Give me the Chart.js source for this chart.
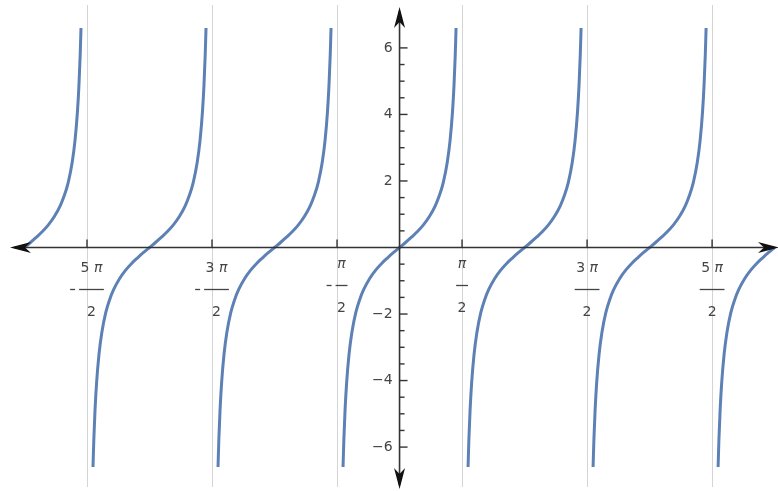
<!DOCTYPE html>
<html>
<head>
<meta charset="utf-8">
<script src="https://cdn.jsdelivr.net/npm/chart.js@4"></script>
<style>
  html, body { margin: 0; padding: 0; background: #fff; }
  #wrap { width: 778px; height: 491px; position: relative; }
</style>
</head>
<body>
<div id="wrap"><canvas id="tanChart"></canvas></div>
<script>
  const PI = Math.PI;

  // one period of the curve: offsets from the branch centre and the values
  const branchOffsets = [-1.42, -1.40, -1.37, -1.33, -1.27, -1.20, -1.10, -1.00, -0.90, -0.75, -0.60, -0.45, -0.30, -0.15,
                         0, 0.15, 0.30, 0.45, 0.60, 0.75, 0.90, 1.00, 1.10, 1.20, 1.27, 1.33, 1.37, 1.40, 1.42];
  const branchValues = [-6.6, -5.8, -4.91, -4.07, -3.22, -2.57, -1.96, -1.56, -1.26, -0.93, -0.68, -0.48, -0.31, -0.15,
                        0, 0.15, 0.31, 0.48, 0.68, 0.93, 1.26, 1.56, 1.96, 2.57, 3.22, 4.07, 4.91, 5.8, 6.6];
  // branch centres, the plotted domain runs from -3π to 3π
  const branchCenters = [-3 * PI, -2 * PI, -PI, 0, PI, 2 * PI, 3 * PI];
  const domain = [-3 * PI, 3 * PI];

  // x ticks at the asymptotes, written as fractions (coefficient, π, denominator)
  const xTickValues = [-5 * PI / 2, -3 * PI / 2, -PI / 2, PI / 2, 3 * PI / 2, 5 * PI / 2];
  const xTickCoefficients = ['5', '3', '', '', '3', '5'];
  const xTickDenominators = ['2', '2', '2', '2', '2', '2'];
  const xTickNegative = [true, true, true, false, false, false];

  const yTickValues = [-6, -4, -2, 2, 4, 6];
  const yTickLabels = ['−6', '−4', '−2', '2', '4', '6'];
  const yMinorStep = 0.5;

  const curveColor = '#5E81B5';
  const labelColor = '#444';
  const labelFont = '14px "DejaVu Sans"';
  const piFont = 'italic 14px "DejaVu Sans"';

  const datasets = branchCenters.map(c => {
    const pts = [];
    branchOffsets.forEach((o, i) => {
      const x = c + o;
      if (x >= domain[0] - 1e-9 && x <= domain[1] + 1e-9) pts.push({ x: x, y: branchValues[i] });
    });
    return {
      data: pts,
      borderColor: curveColor,
      borderWidth: 3,
      pointRadius: 0,
      fill: false,
      cubicInterpolationMode: 'monotone'
    };
  });

  function arrowHead(ctx, tipX, tipY, dx, dy) {
    // dx, dy: unit direction the arrow points to
    const len = 21, half = 5.5, notch = 15;
    const px = -dy, py = dx;
    ctx.beginPath();
    ctx.moveTo(tipX, tipY);
    ctx.lineTo(tipX - dx * len + px * half, tipY - dy * len + py * half);
    ctx.lineTo(tipX - dx * notch, tipY - dy * notch);
    ctx.lineTo(tipX - dx * len - px * half, tipY - dy * len - py * half);
    ctx.closePath();
    ctx.fill();
  }

  const gridPlugin = {
    id: 'asymptoteGrid',
    beforeDatasetsDraw(chart) {
      const ctx = chart.ctx, xs = chart.scales.x;
      ctx.save();
      ctx.strokeStyle = '#d4d4d4';
      ctx.lineWidth = 1;
      xTickValues.forEach(v => {
        const px = Math.round(xs.getPixelForValue(v)) + 0.5;
        ctx.beginPath();
        ctx.moveTo(px, 5);
        ctx.lineTo(px, 487);
        ctx.stroke();
      });
      ctx.restore();
    }
  };

  const axesPlugin = {
    id: 'crossAxes',
    afterDatasetsDraw(chart) {
      const ctx = chart.ctx, xs = chart.scales.x, ys = chart.scales.y;
      const ox = xs.getPixelForValue(0), oy = ys.getPixelForValue(0);
      ctx.save();
      ctx.strokeStyle = '#333';
      ctx.fillStyle = '#111';
      ctx.lineWidth = 1.6;

      // axis lines
      ctx.beginPath();
      ctx.moveTo(14, oy); ctx.lineTo(774, oy);
      ctx.moveTo(ox, 11); ctx.lineTo(ox, 485);
      ctx.stroke();
      arrowHead(ctx, 10, oy, -1, 0);
      arrowHead(ctx, 779, oy, 1, 0);
      arrowHead(ctx, ox, 7, 0, -1);
      arrowHead(ctx, ox, 489, 0, 1);

      // x ticks
      ctx.lineWidth = 1.4;
      xTickValues.forEach(v => {
        const px = xs.getPixelForValue(v);
        ctx.beginPath();
        ctx.moveTo(px, oy); ctx.lineTo(px, oy - 8);
        ctx.stroke();
      });

      // y ticks, major and minor
      for (let v = -6; v <= 6 + 1e-9; v += yMinorStep) {
        if (Math.abs(v) < 1e-9) continue;
        const py = ys.getPixelForValue(v);
        const major = Math.abs(v % 2) < 1e-9;
        ctx.beginPath();
        ctx.moveTo(ox, py); ctx.lineTo(ox + (major ? 8 : 5), py);
        ctx.stroke();
      }

      // y labels
      ctx.fillStyle = labelColor;
      ctx.font = labelFont;
      ctx.textAlign = 'right';
      ctx.textBaseline = 'middle';
      yTickValues.forEach((v, i) => {
        ctx.fillText(yTickLabels[i], ox - 7, ys.getPixelForValue(v));
      });

      // x labels as stacked fractions
      ctx.textAlign = 'left';
      ctx.lineWidth = 1.3;
      ctx.strokeStyle = labelColor;
      xTickValues.forEach((v, i) => {
        const px = xs.getPixelForValue(v);
        const coef = xTickCoefficients[i], den = xTickDenominators[i];
        ctx.font = labelFont;
        const coefW = coef ? ctx.measureText(coef + ' ').width : 0;
        const denW = ctx.measureText(den).width;
        ctx.font = piFont;
        const piW = ctx.measureText('π').width;
        const numW = coefW + piW;
        const shift = coef ? 0 : -4;
        const barW = Math.max(numW, denW) + 3;
        const minusW = 5, gap = 4;
        const total = xTickNegative[i] ? minusW + gap + barW : barW;
        const barLeft = px - total / 2 + (xTickNegative[i] ? minusW + gap : 0);
        const cx = barLeft + barW / 2;
        const barY = oy + 42 + shift;
        const numY = oy + 21 + shift;
        let nx = cx - numW / 2;
        if (coef) {
          ctx.font = labelFont;
          ctx.fillText(coef, nx, numY);
          nx += coefW;
        }
        ctx.font = piFont;
        ctx.fillText('π', nx, numY);
        ctx.beginPath();
        ctx.moveTo(barLeft, barY); ctx.lineTo(barLeft + barW, barY);
        ctx.stroke();
        ctx.font = labelFont;
        ctx.fillText(den, cx - denW / 2, oy + 65 + shift);
        if (xTickNegative[i]) {
          ctx.beginPath();
          ctx.moveTo(barLeft - gap - minusW, barY); ctx.lineTo(barLeft - gap, barY);
          ctx.stroke();
        }
      });
      ctx.restore();
    }
  };

  const chart = new Chart(document.getElementById('tanChart'), {
    type: 'line',
    data: { datasets: datasets },
    options: {
      responsive: true,
      maintainAspectRatio: false,
      animation: false,
      layout: { padding: 0 },
      plugins: { legend: { display: false }, tooltip: { enabled: false } },
      scales: {
        x: { type: 'linear', min: -10.04, max: 9.51, display: false },
        y: { type: 'linear', min: -7.32, max: 7.44, display: false }
      }
    },
    plugins: [gridPlugin, axesPlugin]
  });
</script>
</body>
</html>
